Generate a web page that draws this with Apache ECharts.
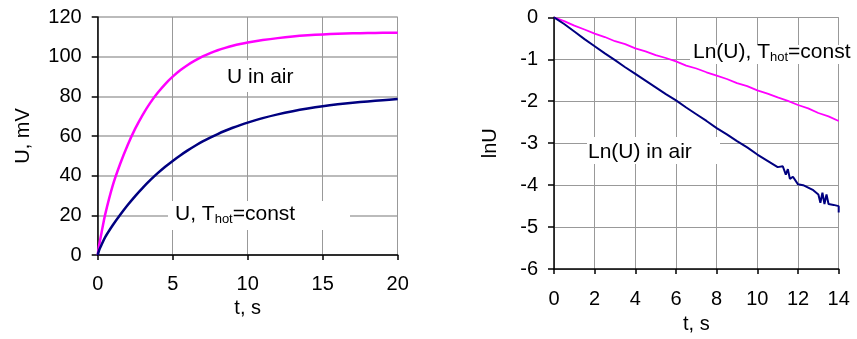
<!DOCTYPE html>
<html>
<head>
<meta charset="utf-8">
<script src="https://cdn.jsdelivr.net/npm/echarts@6/dist/echarts.min.js"></script>
<style>
  html, body { margin: 0; padding: 0; background: #fff; }
  #chart { width: 857px; height: 339px; }
</style>
</head>
<body>
<div id="chart"></div>
<script>
// left panel: U(t)
const tLeft = [0, 0.1, 0.25, 0.5, 1, 1.5, 2, 2.5, 3, 3.5, 4, 4.5, 5, 5.5, 6, 6.5, 7, 7.5, 8, 8.5, 9, 9.5, 10,
  11, 12, 13, 14, 15, 16, 17, 18, 19, 20];
const uPink = [0, 5, 11, 20.5, 35, 46, 55.5, 63.7, 70.7, 76.7, 81.8, 86.2, 89.9, 93.1, 95.8, 98.1, 100.1, 101.8, 103.25, 104.45, 105.5, 106.4, 107.15,
  108.35, 109.35, 110.15, 110.75, 111.2, 111.55, 111.75, 111.9, 112, 112.05];
const uNavy = [0, 2.5, 5, 9, 15, 20.3, 25.2, 29.7, 33.85, 37.7, 41.25, 44.5, 47.45, 50.2, 52.75, 55.1, 57.25, 59.2, 61.0, 62.65, 64.15, 65.5, 66.75,
  69.0, 70.9, 72.5, 73.85, 75.0, 75.95, 76.75, 77.45, 78.05, 78.6];

// right panel: ln(U)(t)
const tPinkR = [0, 0.5, 1, 1.5, 2, 2.5, 3, 3.5, 4, 4.5, 5, 5.5, 6, 6.5, 7, 7.5, 8, 8.5, 9, 9.5, 10, 10.5, 11, 11.5, 12, 12.5, 13, 13.5, 14];
const lnPink = [0, -0.09, -0.2, -0.29, -0.39, -0.47, -0.57, -0.64, -0.74, -0.81, -0.9, -0.97, -1.05, -1.15, -1.22, -1.31, -1.39, -1.47, -1.57, -1.64, -1.74, -1.82, -1.91, -1.99, -2.09, -2.17, -2.28, -2.36, -2.47];
const tNavyR = [0, 0.5, 1, 1.5, 2, 2.5, 3, 3.5, 4, 4.5, 5, 5.5, 6, 6.5, 7, 7.5, 8, 8.5, 9, 9.5, 10, 10.5, 11,
  11.25, 11.4, 11.5, 11.6, 11.75, 12, 12.25, 12.5, 12.75, 13, 13.1, 13.2, 13.3, 13.4, 13.5, 13.75, 14, 14];
const lnNavy = [0, -0.16, -0.34, -0.52, -0.69, -0.86, -1.02, -1.19, -1.35, -1.51, -1.67, -1.83, -1.98, -2.15, -2.31, -2.47, -2.64, -2.79, -2.95, -3.1, -3.27, -3.42, -3.57,
  -3.55, -3.75, -3.62, -3.85, -3.8, -3.98, -4.0, -4.06, -4.12, -4.22, -4.42, -4.18, -4.45, -4.22, -4.45, -4.47, -4.5, -4.65];

const leftTicks = { min: 0, max: 20, interval: 5 };
const leftYTicks = { min: 0, max: 120, interval: 20 };
const rightTicks = { min: 0, max: 14, interval: 2 };
const rightYTicks = { min: -6, max: 0, interval: 1 };

const F = '"Liberation Sans", Arial, sans-serif';
const zip = (xs, ys) => xs.map((x, i) => [x, ys[i]]);

const chart = echarts.init(document.getElementById('chart'));

function xAxisCfg(grid, ticks, margin, nameGap) {
  return {
    type: 'value', gridIndex: grid,
    min: ticks.min, max: ticks.max, interval: ticks.interval,
    name: 't, s', nameLocation: 'middle', nameGap: nameGap,
    nameTextStyle: { fontSize: 20, color: '#000', fontFamily: F },
    axisLine: { onZero: false, lineStyle: { color: '#000', width: 1.5 } },
    axisTick: { show: true, length: 5, lineStyle: { color: '#000', width: 1.5 } },
    axisLabel: { fontSize: 20, color: '#000', fontFamily: F, margin: margin },
    splitLine: { show: true, lineStyle: { color: '#999', width: 1 } }
  };
}
function yAxisCfg(grid, ticks, name, nameGap, splitColor, splitWidth) {
  return {
    type: 'value', gridIndex: grid,
    min: ticks.min, max: ticks.max, interval: ticks.interval,
    name: name, nameLocation: 'middle', nameGap: nameGap,
    nameTextStyle: { fontSize: 20, color: '#000', fontFamily: F },
    axisLine: { show: true, onZero: false, lineStyle: { color: '#000', width: 1.5 } },
    axisTick: { show: true, length: 6, lineStyle: { color: '#000', width: 1.5 } },
    axisLabel: { fontSize: 20, color: '#000', fontFamily: F, margin: 16 },
    splitLine: { show: true, lineStyle: { color: splitColor, width: splitWidth } }
  };
}

function label(x, y, text, rich) {
  return {
    type: 'text', x: x, y: y, z: 5,
    style: { text: text, rich: rich, verticalAlign: 'middle', align: 'left' }
  };
}
function box(x, y, w, h) {
  return {
    type: 'rect', z: 4, shape: { x: x, y: y, width: w, height: h },
    style: { fill: '#fff' }
  };
}
const rich = {
  m: { fontSize: 21, fontFamily: F, fill: '#000' },
  s: { fontSize: 13, fontFamily: F, fill: '#000', padding: [10, 0, 0, 0] }
};

chart.setOption({
  animation: false,
  backgroundColor: '#fff',
  grid: [
    { left: 97.7, right: 459.3, top: 17, bottom: 84 },
    { left: 554, right: 18.3, top: 17.3, bottom: 65 }
  ],
  xAxis: [
    xAxisCfg(0, leftTicks, 19, 41),
    xAxisCfg(1, rightTicks, 20, 40)
  ],
  yAxis: [
    yAxisCfg(0, leftYTicks, 'U, mV', 64, '#bbb', 2),
    yAxisCfg(1, rightYTicks, 'lnU', 54, '#999', 1)
  ],
  graphic: [
    box(222, 60, 78, 32),
    label(227, 77, '{m|U in air}', rich),
    box(168, 201, 182, 29),
    label(175, 214, '{m|U, T}{s|hot}{m|=const}', rich),
    box(690, 45, 167, 19),
    label(693, 52, '{m|Ln(U), T}{s|hot}{m|=const}', rich),
    box(587, 137, 133, 27),
    label(588, 152, '{m|Ln(U) in air}', rich)
  ],
  series: [
    {
      type: 'line', xAxisIndex: 0, yAxisIndex: 0, data: zip(tLeft, uPink),
      showSymbol: false, smooth: 0.3,
      lineStyle: { color: '#ff00ff', width: 2.5 }, z: 3
    },
    {
      type: 'line', xAxisIndex: 0, yAxisIndex: 0, data: zip(tLeft, uNavy),
      showSymbol: false, smooth: 0.3,
      lineStyle: { color: '#000080', width: 2.5 }, z: 3
    },
    {
      type: 'line', xAxisIndex: 1, yAxisIndex: 1, data: zip(tPinkR, lnPink),
      showSymbol: false, lineStyle: { color: '#ff00ff', width: 1.8 }, z: 3
    },
    {
      type: 'line', xAxisIndex: 1, yAxisIndex: 1, data: zip(tNavyR, lnNavy),
      showSymbol: false, lineStyle: { color: '#000080', width: 2 }, z: 3
    }
  ]
});
</script>
</body>
</html>
